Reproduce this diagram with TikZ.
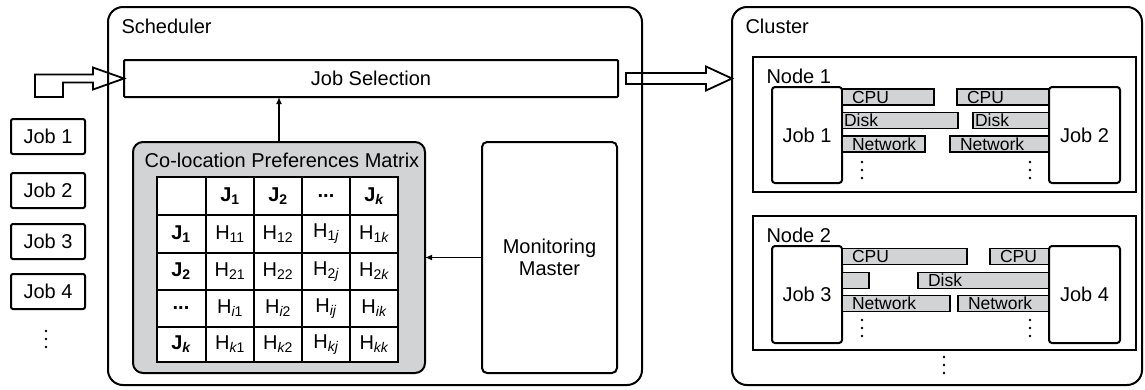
\documentclass[tikz,border=0pt]{standalone}
\usepackage{fontspec}
\setmainfont{Liberation Sans}
\usepackage{tikz}
\usetikzlibrary{positioning, arrows.meta, calc}
\definecolor{lightgr}{RGB}{210,211,213}

\begin{document}
\begin{tikzpicture}[x=1pt, y=-1pt,
  every node/.style={font=\fontsize{20}{22}\selectfont},
  frame/.style={draw, line width=2pt, rounded corners=15pt, outer sep=0pt, inner sep=0pt, anchor=north west},
  box/.style={draw, line width=2pt, rounded corners=3pt, outer sep=0pt, inner sep=0pt, anchor=north west, align=center},
  res/.style={draw, fill=lightgr, line width=1.8pt, minimum height=16pt, inner ysep=0pt, inner xsep=10pt, outer sep=0pt, align=left, font=\fontsize{17.5}{17.5}\selectfont},
  hd/.style={font=\bfseries\fontsize{20}{22}\selectfont},
  link/.style={line width=1.8pt, -{Latex[length=7pt,width=6pt]}},
  fat/.style={line width=1.8pt, line join=miter},
  grid/.style={line width=2pt, line cap=rect}]
\useasboundingbox (0,0) rectangle (1145,389);

% scheduler
\node[frame, minimum width=534pt, minimum height=378pt] (sched) at (108,7) {};
\node[anchor=base west] (schedlbl) at (118,33) {Scheduler};
\node[box, rounded corners=1pt, minimum width=494pt, minimum height=37pt] (jobsel) at (124,60) {Job Selection};

\node[box, fill=lightgr, rounded corners=10pt, minimum width=292pt, minimum height=231pt] (prefs) at (133,142) {};
\node[anchor=base] (prefslbl) at (282,167) {Co-location Preferences Matrix};
\fill[white] (157,177) rectangle (398,362);
\foreach \x in {157,206,254,302,350,398}
  \draw[grid] (\x,177) -- (\x,362);
\foreach \y in {177,215,253,290,327,362}
  \draw[grid] (157,\y) -- (398,\y);

\node[hd] (m01) at (230,196) {J\textsubscript{1}};
\node[hd] (m02) at (278,196) {J\textsubscript{2}};
\node[hd] (m03) at (326,196) {...};
\node[hd] (m04) at (374,196) {J\textsubscript{\itshape k}};
\node[hd] (m10) at (181,234) {J\textsubscript{1}};
\node (m11) at (230,234) {H\textsubscript{11}};
\node (m12) at (278,234) {H\textsubscript{12}};
\node (m13) at (326,234) {H\textsubscript{1\itshape j}};
\node (m14) at (374,234) {H\textsubscript{1\itshape k}};
\node[hd] (m20) at (181,271.5) {J\textsubscript{2}};
\node (m21) at (230,271.5) {H\textsubscript{21}};
\node (m22) at (278,271.5) {H\textsubscript{22}};
\node (m23) at (326,271.5) {H\textsubscript{2\itshape j}};
\node (m24) at (374,271.5) {H\textsubscript{2\itshape k}};
\node[hd] (m30) at (181,308.5) {...};
\node (m31) at (230,308.5) {H\textsubscript{{\itshape i}1}};
\node (m32) at (278,308.5) {H\textsubscript{{\itshape i}2}};
\node (m33) at (326,308.5) {H\textsubscript{\itshape ij}};
\node (m34) at (374,308.5) {H\textsubscript{\itshape ik}};
\node[hd] (m40) at (181,344.5) {J\textsubscript{\itshape k}};
\node (m41) at (230,344.5) {H\textsubscript{{\itshape k}1}};
\node (m42) at (278,344.5) {H\textsubscript{{\itshape k}2}};
\node (m43) at (326,344.5) {H\textsubscript{\itshape kj}};
\node (m44) at (374,344.5) {H\textsubscript{\itshape kk}};

\node[box, rounded corners=5pt, minimum width=135pt, minimum height=231pt] (monitor) at (482,142) {Monitoring\\Master};

\draw[link] (prefs.north) -- (prefs.north |- jobsel.south);
\draw[link] (monitor.west) -- (monitor.west -| prefs.east);

% job queue
\node[box, rounded corners=2pt, minimum width=74pt, minimum height=35pt] (q1) at (11,119) {Job 1};
\node[box, rounded corners=2pt, minimum width=74pt, minimum height=35pt] (q2) at (11,173) {Job 2};
\node[box, rounded corners=2pt, minimum width=74pt, minimum height=35pt] (q3) at (11,224) {Job 3};
\node[box, rounded corners=2pt, minimum width=74pt, minimum height=35pt] (q4) at (11,274) {Job 4};

% cluster
\node[frame, minimum width=410pt, minimum height=378pt] (cluster) at (732,7) {};
\node[anchor=base west] (clusterlbl) at (742,33) {Cluster};

\node[box, sharp corners, minimum width=383pt, minimum height=135pt] (node1) at (753,57) {};
\node[anchor=base west] (node1lbl) at (763,83) {Node 1};
\node[box, minimum width=70pt, minimum height=96pt] (job1) at (772,87) {Job 1};
\node[box, minimum width=71pt, minimum height=96pt] (job2) at (1049,87) {Job 2};
\node[res, anchor=west, text width=72pt] (cpu1) at (842,97) {CPU};
\node[res, anchor=east, text width=72pt] (cpu2) at (1049,97) {CPU};
\node[res, anchor=west, text width=112pt, inner xsep=2pt] (disk1) at (842,120.5) {Disk};
\node[res, anchor=east, text width=72pt, inner xsep=2pt] (disk2) at (1049,120.5) {Disk};
\node[res, anchor=west, text width=63pt] (net1) at (842,144) {Network};
\node[res, anchor=east, text width=79pt] (net2) at (1049,144) {Network};

\node[box, sharp corners, minimum width=383pt, minimum height=134pt] (node2) at (753,216) {};
\node[anchor=base west] (node2lbl) at (763,242) {Node 2};
\node[box, minimum width=70pt, minimum height=97pt] (job3) at (772,246) {Job 3};
\node[box, minimum width=71pt, minimum height=97pt] (job4) at (1049,246) {Job 4};
\node[res, anchor=west, text width=105pt] (cpu3) at (842,256.5) {CPU};
\node[res, anchor=east, text width=39pt] (cpu4) at (1049,256.5) {CPU};
\node[res, anchor=west, text width=7pt] (disk3) at (842,280.5) {};
\node[res, anchor=east, text width=111pt] (disk4) at (1049,280.5) {Disk};
\node[res, anchor=west, text width=88pt] (net3) at (842,303.5) {Network};
\node[res, anchor=east, text width=71pt] (net4) at (1049,303.5) {Network};

% vertical dots
\foreach \x/\y in {46/339, 862/170, 1030/170, 862/328, 1030/328, 944/365}
  \foreach \d in {-8,0,8}
    \fill (\x,\y+\d) circle (1.3pt);

% block arrows
\draw[fat] (35,74.5) -- (93,74.5) -- (93,67.5) -- (jobsel.west) -- (93,89.5) -- (93,82.5)
  -- (63,82.5) -- (63,97) -- (35,97) -- cycle;
\coordinate (outtip) at (cluster.west |- jobsel.east);
\draw[fat] ($(jobsel.east)+(8,-5.5)$) -- ++(80,0) -- ++(0,-6.5) -- (outtip) -- ++(-26,12)
  -- ++(0,-6.5) -- ++(-80,0) -- cycle;
\end{tikzpicture}
\end{document}
